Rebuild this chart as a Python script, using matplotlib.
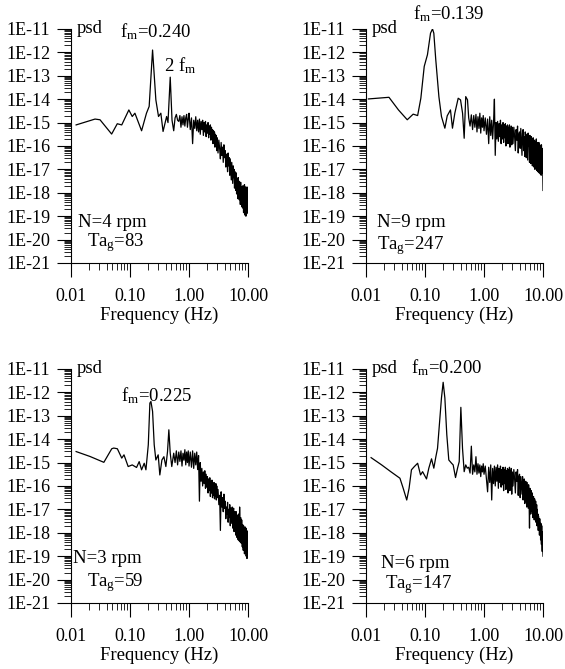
import numpy as np
import matplotlib
matplotlib.use("Agg")
import matplotlib.pyplot as plt
from matplotlib.ticker import FixedLocator, LogLocator, NullFormatter, FixedFormatter

plt.rcParams['font.family'] = ['Liberation Serif', 'DejaVu Serif']
plt.rcParams['mathtext.fontset'] = 'custom'
plt.rcParams['mathtext.rm'] = 'Liberation Serif'
plt.rcParams['mathtext.it'] = 'Liberation Serif:italic'

# ---------------- data (log10 of psd) ----------------
xtick_vals = [0.01, 0.1, 1.0, 10.0]
xtick_labels = ['0.01', '0.10', '1.00', '10.00']
y_exponents = [-21, -20, -19, -18, -17, -16, -15, -14, -13, -12, -11]
ytick_labels = ['1E-21', '1E-20', '1E-19', '1E-18', '1E-17', '1E-16',
                '1E-15', '1E-14', '1E-13', '1E-12', '1E-11']

# shared high-frequency sampling grid (Hz)
freq_hi = [0.55, 0.58, 0.61, 0.64, 0.67, 0.70, 0.73, 0.76, 0.79, 0.82, 0.85, 0.88, 0.91, 0.94, 0.97, 1.00,
           1.05, 1.10, 1.15, 1.20, 1.25, 1.30, 1.35, 1.40, 1.45, 1.50, 1.55, 1.60, 1.65, 1.70, 1.75, 1.80, 1.85, 1.90, 1.95, 2.00,
           2.05, 2.10, 2.15, 2.20, 2.25, 2.30, 2.35, 2.40, 2.45, 2.50, 2.55, 2.60, 2.65, 2.70, 2.75, 2.80, 2.85, 2.90, 2.95, 3.00,
           3.1, 3.2, 3.3, 3.4, 3.5, 3.6, 3.7, 3.8, 3.9, 4.0, 4.1, 4.2, 4.3, 4.4, 4.5, 4.6, 4.7, 4.8, 4.9, 5.0,
           5.1, 5.2, 5.3, 5.4, 5.5, 5.6, 5.7, 5.8, 5.9, 6.0, 6.1, 6.2, 6.3, 6.4, 6.5, 6.6, 6.7, 6.8, 6.9, 7.0,
           7.1, 7.2, 7.3, 7.4, 7.5, 7.6, 7.7, 7.8, 7.9, 8.0, 8.1, 8.2, 8.3, 8.4, 8.5, 8.6, 8.7, 8.8, 8.9, 9.0,
           9.1, 9.2, 9.3, 9.4, 9.5, 9.6, 9.7, 9.8, 9.9, 10.0]

# Panel 1: N=4 rpm
p1_freq_lo = [0.0122, 0.0255, 0.031, 0.0488, 0.0608, 0.0724, 0.0955, 0.109, 0.121, 0.157, 0.19, 0.211,
              0.241, 0.274, 0.304, 0.333, 0.363, 0.417, 0.44, 0.48, 0.515]
p1_psd_lo = [-15.10, -14.85, -14.88, -15.49, -15.05, -15.10, -14.46, -14.74, -14.60, -15.35, -14.60, -14.31,
             -11.90, -14.03, -14.74, -14.60, -15.38, -14.74, -15.0, -13.06, -14.9]
p1_psd_hi = [-15.35, -14.8, -14.65, -14.9, -14.95, -14.7, -15.2, -14.75, -15.1, -14.7, -15.15, -14.8, -14.65, -15.2, -14.85, -14.6,
             -15.3, -14.8, -15.9, -14.9, -15.25, -14.75, -15.35, -14.9, -15.4, -14.85,
             -15.5, -14.95, -15.3, -14.9, -15.55, -15.0, -15.4, -14.95, -15.6, -15.1,
             -15.45, -15.0, -15.65, -15.15, -15.5, -15.1, -15.75, -15.2, -15.6, -15.3,
             -15.9, -15.35, -15.8, -15.4, -16.05, -15.5, -15.95, -15.55, -16.2, -15.65,
             -16.3, -15.75, -16.1, -16.55, -15.85, -16.4, -16.05, -16.7, -15.95, -16.5,
             -16.2, -16.9, -16.35, -16.6, -17.1, -16.3, -16.85, -16.5, -17.25, -16.55,
             -17.0, -17.45, -16.7, -17.2, -17.6, -16.85, -17.35, -17.0, -17.8, -17.1,
             -17.55, -17.9, -17.15, -18.05, -17.4, -17.7, -18.25, -17.35, -17.95, -17.5,
             -18.3, -17.6, -17.9, -18.5, -17.55, -18.2, -17.75, -18.6, -17.85, -18.1,
             -18.65, -17.7, -18.3, -18.85, -17.8, -18.4, -17.65, -18.95, -18.1, -17.75,
             -18.7, -19.0, -17.8, -18.45, -18.9, -17.75, -18.6, -17.95, -18.85, -18.3]

# Panel 2: N=9 rpm
p2_freq_lo = [0.011, 0.0245, 0.0355, 0.050, 0.063, 0.075, 0.085, 0.097, 0.110, 0.124, 0.134, 0.141,
              0.152, 0.172, 0.19, 0.217, 0.238, 0.27, 0.292, 0.32, 0.365, 0.40, 0.433, 0.461, 0.49, 0.525]
p2_psd_lo = [-13.99, -13.92, -14.46, -14.88, -14.64, -14.70, -13.96, -12.60, -12.10, -11.18, -11.00, -11.18,
             -12.30, -13.90, -14.74, -15.24, -14.71, -14.46, -15.24, -14.60, -13.96, -14.03, -14.60, -15.67, -13.89, -14.03]
p2_psd_hi = [-14.8, -15.15, -14.67, -15.3, -14.7, -15.2, -14.65, -15.4, -14.75, -15.25, -14.6, -15.45, -14.8, -15.2, -14.7, -15.35,
             -14.8, -15.5, -14.85, -15.9, -14.75, -15.55, -14.9, -15.7, -15.0, -14.0,
             -16.4, -15.0, -15.7, -14.95, -15.8, -15.05, -15.6, -14.9, -15.9, -15.1,
             -15.7, -15.0, -15.85, -15.1, -15.65, -15.05, -16.0, -15.15, -15.75, -15.1,
             -15.9, -15.2, -15.7, -15.1, -16.05, -15.25, -15.8, -15.15, -15.95, -15.2,
             -15.9, -15.2, -15.6, -16.2, -15.3, -15.75, -15.15, -16.3, -15.5, -15.4,
             -16.1, -15.25, -15.8, -16.4, -15.45, -15.3, -16.2, -15.6, -16.45, -15.4,
             -15.7, -16.5, -15.5, -16.1, -16.6, -15.45, -16.0, -15.6, -16.7, -15.55,
             -16.3, -16.75, -15.6, -16.2, -15.7, -16.85, -16.0, -15.65, -16.6, -16.9,
             -15.75, -16.4, -17.0, -15.8, -16.2, -16.7, -15.7, -17.05, -16.3, -15.85,
             -16.8, -17.1, -15.9, -16.5, -15.85, -17.15, -16.4, -15.95, -16.9, -17.2,
             -16.0, -16.6, -17.25, -15.95, -16.85, -16.1, -17.15, -16.3, -17.3, -17.9]

# Panel 3: N=3 rpm
p3_freq_lo = [0.0122, 0.021, 0.036, 0.049, 0.053, 0.061, 0.0724, 0.079, 0.093, 0.109, 0.129, 0.143,
              0.157, 0.174, 0.186, 0.204, 0.217, 0.226, 0.241, 0.257, 0.274, 0.30, 0.32, 0.347, 0.375,
              0.405, 0.432, 0.455, 0.48, 0.51]
p3_psd_lo = [-14.53, -14.74, -14.99, -14.41, -14.38, -14.41, -14.81, -14.67, -15.17, -15.10, -15.21, -14.96,
             -15.31, -15.03, -15.31, -14.24, -12.46, -12.39, -12.81, -14.24, -14.89, -14.67, -15.53, -14.89, -14.75,
             -15.17, -14.53, -13.60, -14.6, -15.17]
p3_psd_hi = [-14.6, -15.0, -14.5, -15.1, -14.55, -14.95, -14.5, -15.15, -14.6, -14.9, -14.45, -15.1, -14.55, -15.0, -14.5, -15.15,
             -14.55, -15.2, -14.5, -15.25, -14.6, -15.1, -14.55, -15.3, -14.7, -16.65,
             -15.0, -15.8, -15.25, -16.0, -15.4, -15.9, -15.35, -16.1, -15.5, -16.05,
             -15.6, -16.3, -15.7, -16.2, -15.65, -16.45, -15.8, -16.3, -15.75, -16.5,
             -15.9, -16.4, -15.85, -16.55, -15.95, -16.45, -15.9, -16.6, -16.0, -16.5,
             -16.15, -16.8, -16.4, -17.9, -16.25, -16.9, -16.5, -17.1, -16.35, -16.95,
             -16.65, -17.4, -16.9, -17.2, -16.7, -17.55, -17.0, -17.35, -16.8, -17.7,
             -16.95, -17.3, -17.6, -16.9, -17.8, -17.2, -16.95, -17.95, -17.4, -17.1,
             -17.8, -18.1, -17.1, -17.6, -18.2, -17.25, -17.7, -18.3, -17.2, -17.9,
             -18.35, -16.9, -17.6, -18.4, -17.35, -17.9, -18.45, -17.45, -18.1, -18.6,
             -17.65, -18.3, -18.75, -17.7, -18.5, -17.8, -18.9, -18.2, -17.75, -18.8,
             -18.45, -17.8, -19.0, -18.2, -17.9, -19.1, -18.4, -17.95, -18.7, -18.9]

# Panel 4: N=6 rpm
p4_freq_lo = [0.0122, 0.0184, 0.0263, 0.0376, 0.0427, 0.049, 0.0537, 0.0589, 0.066, 0.075, 0.084, 0.091,
              0.106, 0.116, 0.129, 0.141, 0.153, 0.163, 0.179, 0.19, 0.203, 0.217, 0.234, 0.253, 0.282,
              0.30, 0.329, 0.356, 0.38, 0.405, 0.432, 0.461, 0.49, 0.52]
p4_psd_lo = [-14.79, -15.10, -15.39, -15.67, -16.10, -16.60, -16.10, -15.31, -15.17, -15.03, -15.53, -15.39,
             -15.70, -15.24, -14.84, -15.24, -14.74, -14.39, -13.10, -12.24, -11.57, -12.24, -13.81, -14.89, -15.03,
             -15.10, -15.64, -15.24, -14.96, -12.64, -14.39, -15.39, -15.10, -15.24]
p4_psd_hi = [-15.2, -15.45, -14.3, -15.5, -15.1, -15.4, -14.75, -15.5, -15.05, -15.45, -15.1, -15.6, -15.15, -15.4, -15.05, -15.5,
             -15.15, -15.7, -16.25, -15.2, -15.85, -15.1, -16.6, -15.25, -15.9, -15.15,
             -16.0, -15.2, -15.8, -15.1, -16.1, -15.25, -15.85, -15.15, -16.05, -15.3,
             -15.95, -15.2, -16.2, -15.3, -15.9, -15.2, -16.15, -15.35, -16.0, -15.25,
             -16.3, -15.3, -15.95, -15.2, -16.2, -15.35, -16.05, -15.25, -16.35, -15.4,
             -16.0, -15.3, -15.7, -16.3, -15.4, -15.8, -15.3, -16.4, -15.6, -15.5,
             -16.5, -15.6, -16.0, -16.35, -15.6, -16.6, -15.9, -15.7, -16.75, -16.1,
             -15.8, -16.6, -16.9, -15.85, -16.4, -16.95, -15.95, -16.5, -17.8, -16.1,
             -16.8, -17.2, -16.2, -16.7, -17.1, -16.3, -17.35, -16.9, -16.45, -17.15,
             -17.45, -16.55, -17.0, -17.4, -16.65, -17.55, -17.1, -16.8, -17.7, -17.0,
             -17.6, -17.2, -17.9, -17.3, -17.85, -17.45, -18.1, -17.4, -18.0, -17.6,
             -18.3, -17.6, -18.2, -18.5, -17.7, -18.4, -18.8, -17.95, -18.7, -19.0]

panels = [
    dict(pos=[0.1257, 0.6069, 0.3133, 0.3498], flo=p1_freq_lo, plo=p1_psd_lo, phi=p1_psd_hi,
         texts=[('psd', 0.034, 0.982), (r'f$_{\mathregular{m}}$=0.240', 0.277, 0.964),
                (r'2 f$_{\mathregular{m}}$', 0.525, 0.8205),
                ('N=4 rpm', 0.04, 0.155), (r'Ta$_{\mathregular{g}}$=83', 0.09, 0.07)]),
    dict(pos=[0.6478, 0.6069, 0.3133, 0.3498], flo=p2_freq_lo, plo=p2_psd_lo, phi=p2_psd_hi,
         texts=[('psd', 0.034, 0.982), (r'f$_{\mathregular{m}}$=0.139', 0.265, 1.041),
                ('N=9 rpm', 0.062, 0.155), (r'Ta$_{\mathregular{g}}$=247', 0.062, 0.06)]),
    dict(pos=[0.1257, 0.0987, 0.3133, 0.3498], flo=p3_freq_lo, plo=p3_psd_lo, phi=p3_psd_hi,
         texts=[('psd', 0.034, 0.982), (r'f$_{\mathregular{m}}$=0.225', 0.28, 0.863),
                ('N=3 rpm', 0.01, 0.17), (r'Ta$_{\mathregular{g}}$=59', 0.09, 0.07)]),
    dict(pos=[0.6478, 0.0987, 0.3133, 0.3498], flo=p4_freq_lo, plo=p4_psd_lo, phi=p4_psd_hi,
         texts=[('psd', 0.034, 0.982), (r'f$_{\mathregular{m}}$=0.200', 0.254, 0.982),
                ('N=6 rpm', 0.085, 0.15), (r'Ta$_{\mathregular{g}}$=147', 0.107, 0.064)]),
]

fig = plt.figure(figsize=(5.65, 6.69), dpi=100)
TICK_FS = 13
TEXT_FS = 13.5

for p in panels:
    ax = fig.add_axes(p['pos'])
    n = min(len(freq_hi), len(p['phi']))
    f = list(p['flo']) + freq_hi[:n]
    v = list(p['plo']) + list(p['phi'][:n])
    ax.plot(f, 10.0 ** np.array(v), color='black', lw=0.9)
    ax.set_xscale('log')
    ax.set_yscale('log')
    ax.set_xlim(0.01, 10)
    ax.set_ylim(10.0 ** y_exponents[0], 10.0 ** y_exponents[-1])
    ax.spines['top'].set_visible(False)
    ax.spines['right'].set_visible(False)
    for s in ('left', 'bottom'):
        ax.spines[s].set_linewidth(0.8)
    ax.xaxis.set_major_locator(FixedLocator(xtick_vals))
    ax.xaxis.set_major_formatter(FixedFormatter(xtick_labels))
    ax.xaxis.set_minor_locator(LogLocator(base=10, subs=np.arange(2, 10), numticks=50))
    ax.xaxis.set_minor_formatter(NullFormatter())
    ax.yaxis.set_major_locator(FixedLocator([10.0 ** e for e in y_exponents]))
    ax.yaxis.set_major_formatter(FixedFormatter(ytick_labels))
    ax.yaxis.set_minor_locator(LogLocator(base=10, subs=np.arange(2, 10), numticks=50))
    ax.yaxis.set_minor_formatter(NullFormatter())
    ax.tick_params(axis='both', which='major', direction='out', length=10, width=0.8,
                   labelsize=TICK_FS)
    ax.tick_params(axis='both', which='minor', direction='out', length=5, width=0.6)
    ax.tick_params(axis='x', which='major', pad=8)
    ax.tick_params(axis='y', which='major', pad=5)
    ax.set_xlabel('Frequency (Hz)', fontsize=TEXT_FS, labelpad=1)
    for (t, x, y) in p['texts']:
        ax.text(x, y, t, transform=ax.transAxes, fontsize=TEXT_FS, ha='left', va='baseline')
    ax.set_facecolor('none')

fig.savefig('out.png', dpi=100, facecolor='white')
